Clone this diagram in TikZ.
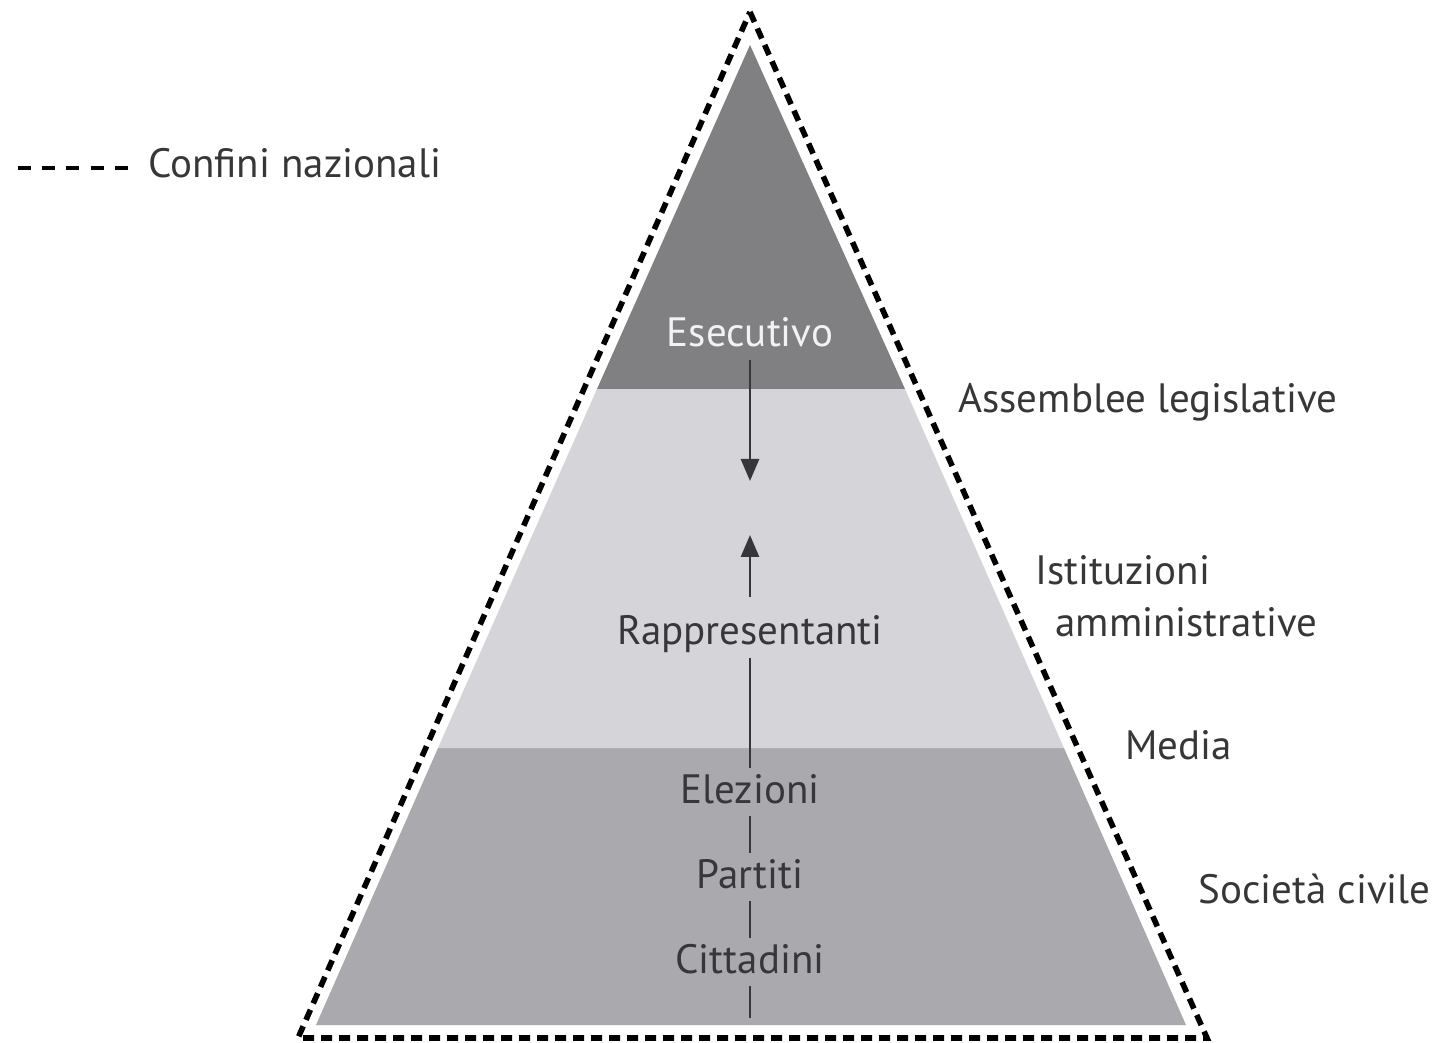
\documentclass[tikz,border=0pt]{standalone}
\usepackage{fontspec}
\setmainfont{PT Sans}
\usetikzlibrary{arrows.meta}
\definecolor{topband}{RGB}{128,128,131}
\definecolor{midband}{RGB}{213,213,217}
\definecolor{lowband}{RGB}{170,170,174}
\definecolor{txt}{RGB}{55,55,57}
\tikzset{
  lbl/.style={font=\fontsize{20.5}{24}\selectfont, text=txt, inner sep=0pt, anchor=base west},
  ctr/.style={font=\fontsize{20.5}{24}\selectfont, text=txt, text height=15pt, text depth=4pt, inner xsep=0pt, inner ysep=2.5pt, anchor=base},
  border/.style={line width=2.8pt, dash pattern=on 5.5pt off 3.5pt},
  link/.style={line width=1.3pt, draw=txt},
  arr/.style={link, -{Triangle[length=11pt,width=9pt]}}
}
\begin{document}
\begin{tikzpicture}[x=0.5pt,y=-0.5pt]
\useasboundingbox (0,0) rectangle (1432,1043);
% bands
\fill[lowband] (316,1025) -- (1186,1025) -- (1064,748) -- (438,748) -- cycle;
\fill[midband] (438,748) -- (1064,748) -- (905,389) -- (597,389) -- cycle;
\fill[topband] (597,389) -- (905,389) -- (750,45) -- cycle;
% national borders
\draw[border] (750,12) -- (1207,1038) -- (298,1038) -- cycle;
% legend
\coordinate (lg1) at (18,168);
\coordinate (lg2) at (129,168);
\node[lbl] (legend) at (148,178) {Confini nazionali};
\draw[line width=2.2pt, dash pattern=on 6.5pt off 5.6pt] (lg1) -- (lg2);
% centre labels
\node[ctr, text=white!95!black] (esec) at (750,347) {Esecutivo};
\node[ctr] (rapp) at (750,645) {Rappresentanti};
\node[ctr] (elez) at (750,803) {Elezioni};
\node[ctr] (part) at (750,888) {Partiti};
\node[ctr] (citt) at (750,973) {Cittadini};
\coordinate (tipdown) at (750,481);
\coordinate (tipup) at (750,535);
\coordinate (base) at (750,1018);
\draw[arr] (esec) -- (tipdown);
\draw[arr, shorten <=6.5pt] (rapp) -- (tipup);
\draw[link] (rapp) -- (elez);
\draw[link] (elez) -- (part);
\draw[link] (part) -- (citt);
\draw[link] (citt) -- (base);
% side labels
\node[lbl] (ass) at (958,413) {Assemblee legislative};
\node[lbl] (ist) at (1035,585) {Istituzioni};
\node[lbl] (amm) at (1055,637) {amministrative};
\node[lbl] (media) at (1125,759) {Media};
\node[lbl] (soc) at (1198,903) {Società civile};
\end{tikzpicture}
\end{document}
